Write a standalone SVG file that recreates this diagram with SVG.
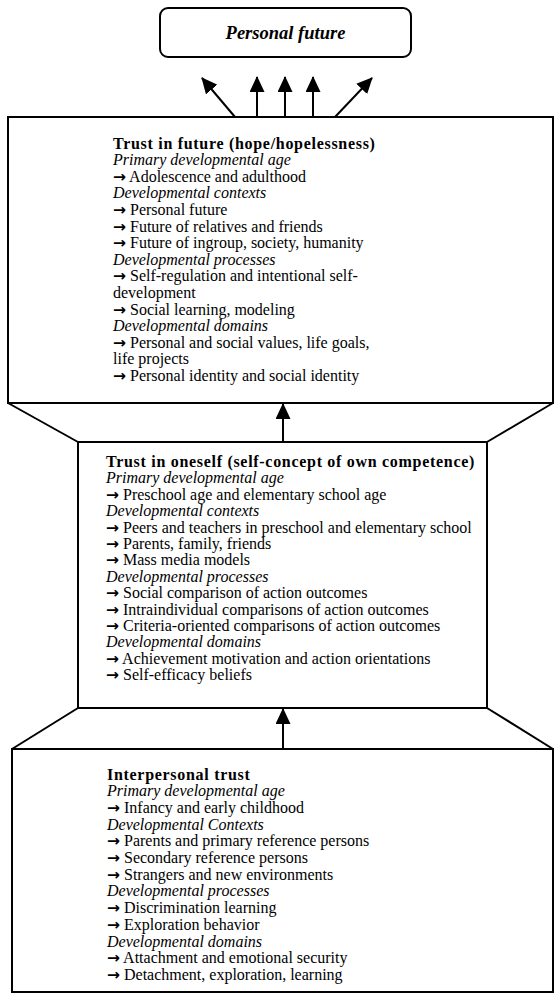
<svg xmlns="http://www.w3.org/2000/svg" width="555" height="995" viewBox="0 0 555 995">
<style>
.box{fill:#fff;stroke:#000;stroke-width:2}
.t{font-family:"Liberation Serif","Times New Roman",serif;font-size:16px;fill:#000}
.b{font-weight:bold;letter-spacing:0.7px}
.i{font-style:italic}
.a{font-family:"DejaVu Sans",sans-serif;font-weight:bold;font-size:15.5px}
.pf{font-family:"Liberation Serif","Times New Roman",serif;font-size:18.5px;font-weight:bold;font-style:italic;fill:#000}
.ln{stroke:#000;stroke-width:2;fill:none}
.ar{stroke:#000;stroke-width:2;fill:none;marker-end:url(#ah)}
</style>
<defs>
<marker id="ah" markerUnits="userSpaceOnUse" markerWidth="16" markerHeight="15" refX="15" refY="7.5" orient="auto">
<path d="M0,0 L16,7.5 L0,15 z" fill="#000"/>
</marker>
</defs>
<rect width="555" height="995" fill="#fff"/>
<g id="personal-future">
<rect class="box" x="160" y="8" width="251" height="49" rx="8"/>
<text class="pf" x="285.5" y="39" text-anchor="middle">Personal future</text>
</g>
<g id="trust-future">
<rect class="box" x="8" y="117" width="545" height="286"/>
<text class="t" x="113" y="148.5">
<tspan class="b" x="113">Trust in future (hope/hopelessness)</tspan>
<tspan class="i" x="113" dy="16.6">Primary developmental age</tspan>
<tspan x="113" dy="16.6"><tspan class="a">→</tspan> Adolescence and adulthood</tspan>
<tspan class="i" x="113" dy="16.6">Developmental contexts</tspan>
<tspan x="113" dy="16.6"><tspan class="a">→</tspan> Personal future</tspan>
<tspan x="113" dy="16.6"><tspan class="a">→</tspan> Future of relatives and friends</tspan>
<tspan x="113" dy="16.6"><tspan class="a">→</tspan> Future of ingroup, society, humanity</tspan>
<tspan class="i" x="113" dy="16.6">Developmental processes</tspan>
<tspan x="113" dy="16.6"><tspan class="a">→</tspan> Self-regulation and intentional self-</tspan>
<tspan x="113" dy="16.6">development</tspan>
<tspan x="113" dy="16.6"><tspan class="a">→</tspan> Social learning, modeling</tspan>
<tspan class="i" x="113" dy="16.6">Developmental domains</tspan>
<tspan x="113" dy="16.6"><tspan class="a">→</tspan> Personal and social values, life goals,</tspan>
<tspan x="113" dy="16.6">life projects</tspan>
<tspan x="113" dy="16.6"><tspan class="a">→</tspan> Personal identity and social identity</tspan>
</text>
</g>
<g id="trust-oneself">
<rect class="box" x="78" y="442" width="409" height="266"/>
<text class="t" x="106" y="467">
<tspan class="b" x="106">Trust in oneself (self-concept of own competence)</tspan>
<tspan class="i" x="106" dy="16.4">Primary developmental age</tspan>
<tspan x="106" dy="16.4"><tspan class="a">→</tspan> Preschool age and elementary school age</tspan>
<tspan class="i" x="106" dy="16.4">Developmental contexts</tspan>
<tspan x="106" dy="16.4"><tspan class="a">→</tspan> Peers and teachers in preschool and elementary school</tspan>
<tspan x="106" dy="16.4"><tspan class="a">→</tspan> Parents, family, friends</tspan>
<tspan x="106" dy="16.4"><tspan class="a">→</tspan> Mass media models</tspan>
<tspan class="i" x="106" dy="16.4">Developmental processes</tspan>
<tspan x="106" dy="16.4"><tspan class="a">→</tspan> Social comparison of action outcomes</tspan>
<tspan x="106" dy="16.4"><tspan class="a">→</tspan> Intraindividual comparisons of action outcomes</tspan>
<tspan x="106" dy="16.4"><tspan class="a">→</tspan> Criteria-oriented comparisons of action outcomes</tspan>
<tspan class="i" x="106" dy="16.4">Developmental domains</tspan>
<tspan x="106" dy="16.4"><tspan class="a">→</tspan> Achievement motivation and action orientations</tspan>
<tspan x="106" dy="16.4"><tspan class="a">→</tspan> Self-efficacy beliefs</tspan>
</text>
</g>
<g id="interpersonal-trust">
<rect class="box" x="12" y="749" width="541" height="243"/>
<text class="t" x="107" y="779.5">
<tspan class="b" x="107">Interpersonal trust</tspan>
<tspan class="i" x="107" dy="16.7">Primary developmental age</tspan>
<tspan x="107" dy="16.7"><tspan class="a">→</tspan> Infancy and early childhood</tspan>
<tspan class="i" x="107" dy="16.7">Developmental Contexts</tspan>
<tspan x="107" dy="16.7"><tspan class="a">→</tspan> Parents and primary reference persons</tspan>
<tspan x="107" dy="16.7"><tspan class="a">→</tspan> Secondary reference persons</tspan>
<tspan x="107" dy="16.7"><tspan class="a">→</tspan> Strangers and new environments</tspan>
<tspan class="i" x="107" dy="16.7">Developmental processes</tspan>
<tspan x="107" dy="16.7"><tspan class="a">→</tspan> Discrimination learning</tspan>
<tspan x="107" dy="16.7"><tspan class="a">→</tspan> Exploration behavior</tspan>
<tspan class="i" x="107" dy="16.7">Developmental domains</tspan>
<tspan x="107" dy="16.7"><tspan class="a">→</tspan> Attachment and emotional security</tspan>
<tspan x="107" dy="16.7"><tspan class="a">→</tspan> Detachment, exploration, learning</tspan>
</text>
</g>
<g id="connectors">
<line class="ln" x1="8" y1="403" x2="78" y2="442"/>
<line class="ln" x1="553" y1="403" x2="487" y2="442"/>
<line class="ln" x1="78" y1="708" x2="12" y2="749"/>
<line class="ln" x1="487" y1="708" x2="553" y2="749"/>
<line class="ar" x1="283" y1="442" x2="283" y2="404"/>
<line class="ar" x1="283" y1="749" x2="283" y2="709"/>
<line class="ar" x1="235" y1="117" x2="202" y2="78"/>
<line class="ar" x1="257" y1="117" x2="257" y2="77"/>
<line class="ar" x1="285" y1="117" x2="285" y2="77"/>
<line class="ar" x1="313" y1="117" x2="313" y2="77"/>
<line class="ar" x1="335" y1="117" x2="372" y2="78"/>
</g>
</svg>
